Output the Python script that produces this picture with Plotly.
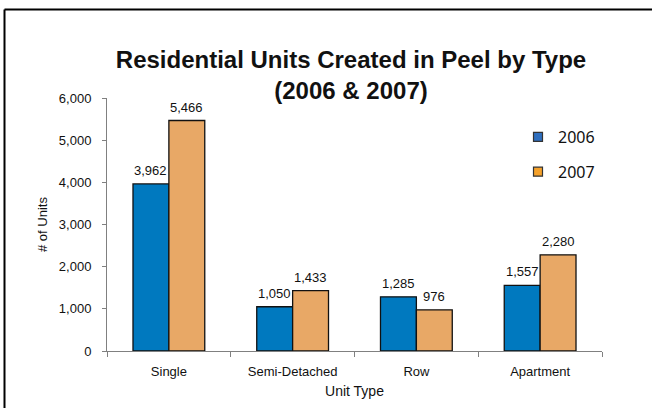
import plotly.graph_objects as go

categories = ["Single", "Semi-Detached", "Row", "Apartment"]
values_2006 = [3962, 1050, 1285, 1557]
values_2007 = [5466, 1433, 976, 2280]
series_names = ["2006", "2007"]
y_ticks = [0, 1000, 2000, 3000, 4000, 5000, 6000]

W, H = 652, 408
ML, MR, MT, MB = 107, 50, 98, 57
PW = W - ML - MR
PH = H - MT - MB
BARGAP = 0.42

def px_x(x):
    return (x - ML) / PW

def px_y(y):
    return (H - MB - y) / PH

bar_colors = ["#0079bf", "#e8a866"]
legend_colors = ["#2f6fbf", "#f5a12a"]
FONT = "Liberation Sans, Arial"

fig = go.Figure()
for name, vals, col in zip(series_names, [values_2006, values_2007], bar_colors):
    fig.add_trace(go.Bar(
        x=categories, y=vals, name=name, showlegend=False,
        marker=dict(color=col, line=dict(color="#111111", width=1.3)),
        hoverinfo="x+y+name",
    ))
for name, col in zip(series_names, legend_colors):
    fig.add_trace(go.Scatter(
        x=[None], y=[None], mode="markers", name=name, legendgroup=name,
        marker=dict(symbol="square", size=9, color=col, line=dict(color="#333333", width=1.2)),
    ))

# value labels above each bar
cat_px = PW / len(categories)
bar_px = cat_px * (1 - BARGAP) / len(series_names)
for si, vals in enumerate([values_2006, values_2007]):
    shift = (si - (len(series_names) - 1) / 2) * bar_px
    for cat, v in zip(categories, vals):
        fig.add_annotation(
            x=cat, y=v, text=f"{v:,}", showarrow=False,
            xanchor="center", yanchor="bottom", xshift=shift, yshift=4,
            font=dict(family=FONT, size=13, color="#111111"),
        )

fig.update_layout(
    width=W, height=H,
    margin=dict(l=ML, r=MR, t=MT, b=MB),
    paper_bgcolor="white", plot_bgcolor="white",
    barmode="group", bargap=BARGAP, bargroupgap=0,
    title=dict(
        text="<b>Residential Units Created in Peel by Type<br>(2006 & 2007)</b>",
        font=dict(family=FONT, size=24, color="#111111"),
        x=px_x(351), xref="paper", xanchor="center",
        y=1 - 68 / H, yref="container", yanchor="top",
    ),
    font=dict(family=FONT, color="#111111"),
    legend=dict(
        x=px_x(518), y=px_y(120), xanchor="left", yanchor="top",
        font=dict(family="Noto Sans", size=16, color="#111111"),
        tracegroupgap=11, bgcolor="rgba(0,0,0,0)",
    ),
    showlegend=True,
)
fig.update_xaxes(
    type="category", tickson="boundaries", ticks="outside", ticklen=5,
    tickcolor="#808080", showline=True, linecolor="#808080", linewidth=1,
    showgrid=False, tickfont=dict(size=13, color="#111111"), ticklabelstandoff=8,
    title=dict(text="Unit Type", font=dict(size=14, color="#111111"), standoff=8),
)
fig.update_yaxes(
    range=[0, 6000], tickvals=y_ticks, tickformat=",", ticks="outside", ticklen=4,
    tickcolor="#808080", showline=True, linecolor="#808080", linewidth=1,
    showgrid=False, zeroline=False, tickfont=dict(size=13, color="#111111"),
    ticklabelstandoff=8,
    title=dict(text="# of Units", font=dict(size=13, color="#111111"), standoff=8),
)

# chart frame (top and left edges visible)
fig.add_shape(type="line", xref="paper", yref="paper",
              x0=px_x(4.5), x1=px_x(660), y0=px_y(9.5), y1=px_y(9.5),
              line=dict(color="black", width=2))
fig.add_shape(type="line", xref="paper", yref="paper",
              x0=px_x(4.5), x1=px_x(4.5), y0=px_y(9.5), y1=px_y(420),
              line=dict(color="black", width=2))

fig.write_html("out.html", config={"displayModeBar": False},
               post_script="document.body.style.margin='0';")
